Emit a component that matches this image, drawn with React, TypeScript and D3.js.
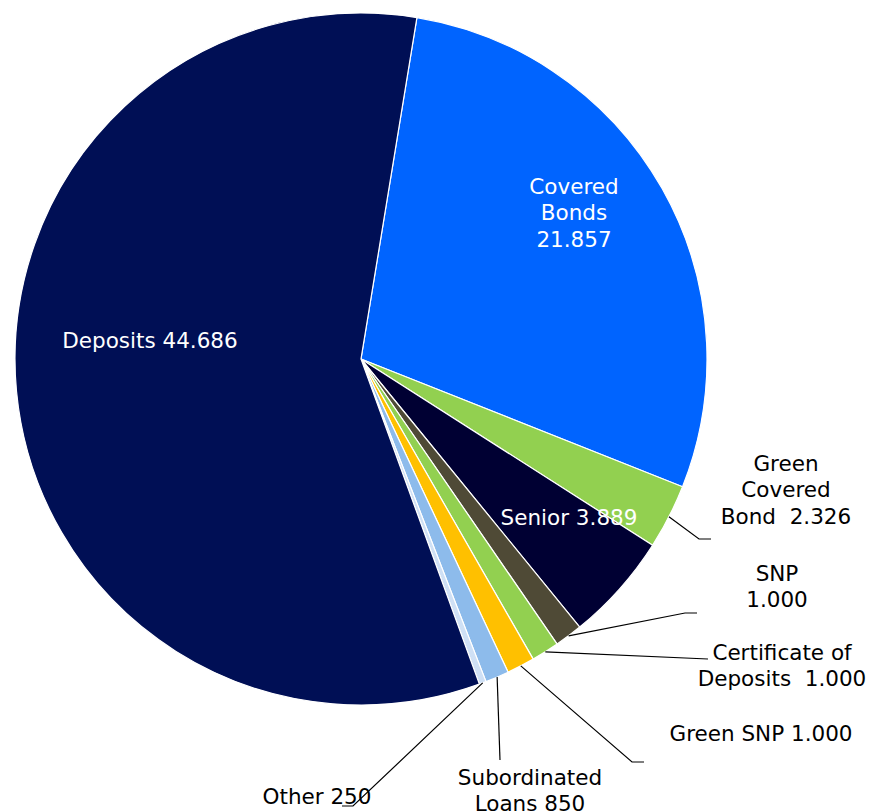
import React from "react";
import * as d3 from "d3";

const categories = [
  "Covered Bonds",
  "Green Covered Bond",
  "Senior",
  "SNP",
  "Certificate of Deposits",
  "Green SNP",
  "Subordinated Loans",
  "Other",
  "Deposits",
];
const values = [21857, 2326, 3889, 1000, 1000, 1000, 850, 250, 44686];
const labelLines = [
  ["Covered", "Bonds", "21.857"],
  ["Green", "Covered", "Bond  2.326"],
  ["Senior 3.889"],
  ["SNP", "1.000"],
  ["Certificate of", "Deposits  1.000"],
  ["Green SNP 1.000"],
  ["Subordinated", "Loans 850"],
  ["Other 250"],
  ["Deposits 44.686"],
];
const colors = [
  "#0064FF",
  "#92D050",
  "#000033",
  "#4F4A36",
  "#92D050",
  "#FFC000",
  "#8DBBEB",
  "#CFE0F5",
  "#000F55",
];

// layout: label centre x, first line centre y, text colour, leader elbow/end (null = inside)
const layout = [
  { x: 574, y: 186, fill: "#fff", leader: null },
  { x: 786, y: 463, fill: "#000", leader: [[699, 539], [711, 539]] },
  { x: 569, y: 517, fill: "#fff", leader: null },
  { x: 777, y: 573, fill: "#000", leader: [[685, 613], [697, 613]] },
  { x: 782, y: 652, fill: "#000", leader: [[708, 659]] },
  { x: 761, y: 733, fill: "#000", leader: [[632, 762], [644, 762]] },
  { x: 530, y: 777, fill: "#000", leader: [[500, 760]] },
  { x: 317, y: 796, fill: "#000", leader: [[353, 806], [342, 806]] },
  { x: 150, y: 340, fill: "#fff", leader: null },
];

const W = 869;
const H = 811;
const cx = 361;
const cy = 359;
const R = 346;
const lineH = 26.5;
const startDeg = 9.3;

export default function App() {
  const data = categories.map((c, i) => ({ c, v: values[i], i }));
  const pie = d3
    .pie<any>()
    .value((d) => d.v)
    .sort(null)
    .startAngle((startDeg * Math.PI) / 180)
    .endAngle((startDeg * Math.PI) / 180 + 2 * Math.PI);
  const arcs = pie(data);
  const arc = d3.arc<any>().innerRadius(0).outerRadius(R);

  return (
    <svg
      width={W}
      height={H}
      style={{ position: "absolute", left: 0, top: 0, background: "#fff" }}
      fontFamily="'DejaVu Sans', Verdana, sans-serif"
      fontSize={21.5}
    >
      <g transform={`translate(${cx},${cy})`}>
        {arcs.map((a, i) => (
          <path
            key={i}
            d={arc(a) as string}
            fill={colors[i]}
            stroke="#fff"
            strokeWidth={1.2}
          />
        ))}
      </g>
      {arcs.map((a, i) => {
        const L = layout[i];
        if (!L.leader) return null;
        const mid = (a.startAngle + a.endAngle) / 2;
        const sx = cx + R * Math.sin(mid);
        const sy = cy - R * Math.cos(mid);
        const pts = [[sx, sy], ...L.leader];
        return (
          <polyline
            key={"l" + i}
            points={pts.map((p) => p.join(",")).join(" ")}
            fill="none"
            stroke="#000"
            strokeWidth={1.2}
          />
        );
      })}
      {labelLines.map((lines, i) => {
        const L = layout[i];
        return (
          <text
            key={"t" + i}
            textAnchor="middle"
            fill={L.fill}
            style={{ whiteSpace: "pre" }}
          >
            {lines.map((ln, j) => (
              <tspan
                key={j}
                x={L.x}
                y={L.y + j * lineH}
                dominantBaseline="central"
              >
                {ln}
              </tspan>
            ))}
          </text>
        );
      })}
    </svg>
  );
}
